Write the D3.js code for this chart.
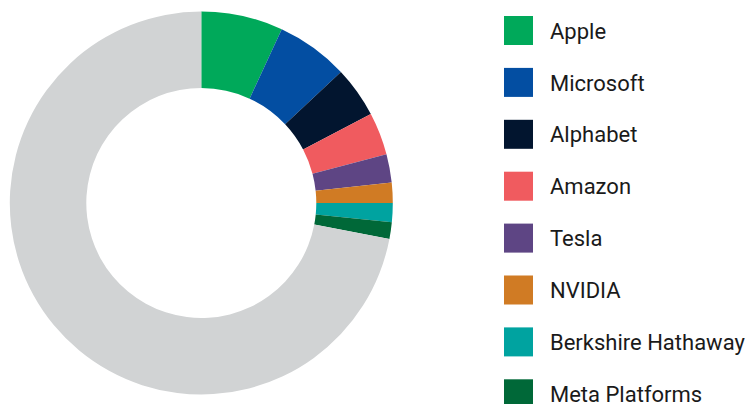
<!DOCTYPE html>
<html>
<head>
<meta charset="utf-8">
<script src="https://cdn.jsdelivr.net/npm/d3@7"></script>
<style>
  html, body { margin: 0; padding: 0; background: #fff; }
  svg text { font-family: Roboto, "Liberation Sans", sans-serif; fill: #1a1a1a; }
</style>
</head>
<body>
<div id="chart"></div>
<script>
// share of index weight (percent)
const companies = ["Apple", "Microsoft", "Alphabet", "Amazon", "Tesla", "NVIDIA", "Berkshire Hathaway", "Meta Platforms"];
const weights = [6.9, 6.1, 4.3, 3.6, 2.4, 1.7, 1.6, 1.4];
const colors = ["#00a95a", "#034ea2", "#02152f", "#f05b5f", "#5e4584", "#d07b24", "#00a3a0", "#006838"];
const otherLabel = "Other";
const otherColor = "#d1d3d4";

const width = 750, height = 404;
const cx = 201.3, cy = 203;
const outerR = 191.5, innerR = 115;

const slices = companies.map((c, i) => ({name: c, value: weights[i], color: colors[i]}));
slices.push({name: otherLabel, value: 100 - d3.sum(weights), color: otherColor});

const svg = d3.select("#chart").append("svg")
    .attr("width", width)
    .attr("height", height)
    .attr("viewBox", [0, 0, width, height]);

const pie = d3.pie()
    .sort(null)
    .value(d => d.value);

const arc = d3.arc()
    .innerRadius(innerR)
    .outerRadius(outerR);

svg.append("g")
    .attr("transform", `translate(${cx},${cy})`)
  .selectAll("path")
  .data(pie(slices))
  .join("path")
    .attr("fill", d => d.data.color)
    .attr("d", arc);

// legend
const y = d3.scaleBand()
    .domain(companies)
    .range([16, 16 + 8 * 51.9]);

const legend = svg.append("g")
  .selectAll("g")
  .data(slices.filter(d => d.name !== otherLabel))
  .join("g")
    .attr("transform", d => `translate(504,${y(d.name)})`);

legend.append("rect")
    .attr("width", 29)
    .attr("height", 29)
    .attr("fill", d => d.color);

legend.append("text")
    .attr("x", 46)
    .attr("y", 22.7)
    .attr("font-size", 22)
    .text(d => d.name);
</script>
</body>
</html>
